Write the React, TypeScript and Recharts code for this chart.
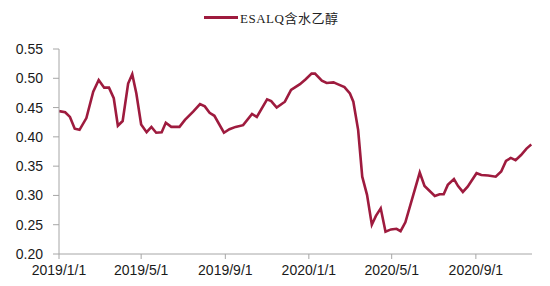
import React from 'react';
import { LineChart, Line, XAxis, YAxis } from 'recharts';

const dates: string[] = [
  '2019-01-01','2019-01-10','2019-01-17','2019-01-24','2019-01-31','2019-02-10','2019-02-20','2019-02-28',
  '2019-03-08','2019-03-15','2019-03-22','2019-03-28','2019-04-04','2019-04-12','2019-04-18','2019-04-24',
  '2019-05-01','2019-05-09','2019-05-16','2019-05-23','2019-05-31','2019-06-06','2019-06-14','2019-06-26',
  '2019-07-04','2019-07-16','2019-07-26','2019-08-02','2019-08-09','2019-08-16','2019-08-30','2019-09-07',
  '2019-09-16','2019-09-27','2019-10-10','2019-10-17','2019-11-01','2019-11-07','2019-11-15','2019-11-27',
  '2019-12-06','2019-12-19','2019-12-27','2020-01-05','2020-01-10','2020-01-20','2020-01-27','2020-02-06',
  '2020-02-12','2020-02-22','2020-03-01','2020-03-06','2020-03-13','2020-03-19','2020-03-26','2020-04-02',
  '2020-04-08','2020-04-15','2020-04-22','2020-04-30','2020-05-08','2020-05-14','2020-05-21','2020-06-11',
  '2020-06-18','2020-07-03','2020-07-10','2020-07-16','2020-07-22','2020-07-31','2020-08-06','2020-08-13',
  '2020-08-20','2020-09-02','2020-09-09','2020-09-19','2020-09-30','2020-10-08','2020-10-15','2020-10-22',
  '2020-10-29','2020-11-06','2020-11-14','2020-11-21',
];

const values: number[] = [
  0.444,0.442,0.434,0.414,0.412,0.432,0.477,0.497,
  0.484,0.484,0.466,0.419,0.427,0.491,0.507,0.474,
  0.421,0.408,0.417,0.407,0.408,0.424,0.417,0.417,
  0.429,0.443,0.456,0.452,0.441,0.436,0.407,0.413,
  0.417,0.420,0.439,0.434,0.464,0.461,0.450,0.460,
  0.480,0.490,0.498,0.508,0.508,0.496,0.492,0.493,
  0.490,0.485,0.474,0.460,0.412,0.332,0.301,0.250,
  0.265,0.278,0.238,0.242,0.243,0.239,0.254,0.339,
  0.316,0.299,0.302,0.302,0.318,0.328,0.316,0.306,
  0.315,0.338,0.335,0.334,0.332,0.341,0.359,0.364,
  0.360,0.369,0.380,0.387,
];

const xTickDates: string[] = ['2019-01-01','2019-05-01','2019-09-01','2020-01-01','2020-05-01','2020-09-01'];
const yTicks: number[] = [0.2, 0.25, 0.3, 0.35, 0.4, 0.45, 0.5, 0.55];
const seriesName = 'ESALQ含水乙醇';
const xDomainDates: string[] = ['2019-01-01', '2020-11-22'];

const toTs = (s: string) => Date.parse(s + 'T00:00:00Z');

const data = dates.map((d, i) => ({ t: toTs(d), v: values[i] }));

const fmtDate = (ts: number) => {
  const d = new Date(ts);
  return `${d.getUTCFullYear()}/${d.getUTCMonth() + 1}/${d.getUTCDate()}`;
};

const LINE_COLOR = '#9E1B3E';
const AXIS_COLOR = '#A6A6A6';

export default function App() {
  return (
    <div style={{ position: 'absolute', left: 0, top: 0, width: 550, height: 286, background: '#fff' }}>
      <div
        style={{
          position: 'absolute',
          left: 204,
          top: 8,
          height: 18,
          display: 'flex',
          alignItems: 'center',
          fontFamily: '"Liberation Serif", "Noto Sans CJK SC", serif',
          fontSize: 13,
          color: '#222',
          whiteSpace: 'nowrap',
        }}
      >
        <span style={{ display: 'inline-block', width: 34, height: 3, background: LINE_COLOR, marginRight: 2 }} />
        <span style={{ letterSpacing: 0.5 }}>{seriesName}</span>
      </div>
      <LineChart width={550} height={286} data={data} margin={{ top: 49, right: 18, bottom: 0, left: 0 }}>
        <XAxis
          dataKey="t"
          type="number"
          scale="time"
          domain={xDomainDates.map(toTs)}
          ticks={xTickDates.map(toTs)}
          tickFormatter={fmtDate}
          height={32}
          stroke={AXIS_COLOR}
          tickSize={5}
          tickMargin={6}
          tick={{ fill: '#1a1a1a', fontSize: 14, fontFamily: '"Liberation Sans", Arial, sans-serif' }}
          allowDataOverflow
        />
        <YAxis
          domain={[0.2, 0.55]}
          ticks={yTicks}
          tickFormatter={(v: number) => v.toFixed(2)}
          width={59}
          stroke={AXIS_COLOR}
          tickSize={6}
          tickMargin={10}
          interval={0}
          tick={{ fill: '#1a1a1a', fontSize: 14, fontFamily: '"Liberation Sans", Arial, sans-serif' }}
          allowDataOverflow
        />
        <Line
          dataKey="v"
          name={seriesName}
          type="linear"
          stroke={LINE_COLOR}
          strokeWidth={2.6}
          dot={false}
          isAnimationActive={false}
        />
      </LineChart>
    </div>
  );
}
